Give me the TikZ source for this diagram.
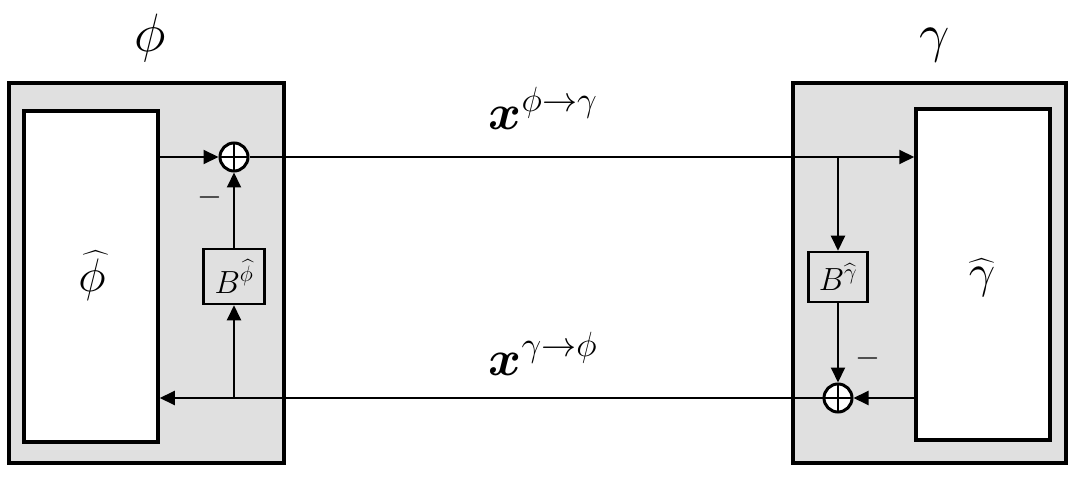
\RequirePackage{fix-cm}
\documentclass[tikz,border=0pt]{standalone}
\usepackage{amsmath}
\usetikzlibrary{arrows.meta}
\definecolor{boxgray}{RGB}{224,224,224}
\tikzset{
  outerbox/.style={draw, line width=4pt, fill=boxgray, inner sep=0pt},
  innerbox/.style={draw, line width=3.5pt, fill=white, inner sep=0pt},
  bbox/.style={draw, line width=2.5pt, fill=boxgray, inner sep=0pt, font=\fontsize{32}{36}\selectfont},
  sumnode/.style={circle, draw, line width=3pt, fill=white, minimum size=28pt, inner sep=0pt,
    path picture={\draw[line width=2.5pt] (path picture bounding box.north) -- (path picture bounding box.south)
      (path picture bounding box.west) -- (path picture bounding box.east);}},
  arr/.style={line width=2pt, -{Triangle[length=15pt,width=14pt]}},
  biglabel/.style={font=\fontsize{54}{60}\selectfont, inner sep=0pt},
  hatlabel/.style={font=\fontsize{47}{52}\selectfont, inner sep=0pt},
  xlabel/.style={font=\fontsize{50}{56}\selectfont, inner sep=0pt},
  minuslabel/.style={font=\fontsize{32}{36}\selectfont, inner sep=0pt}
}
\begin{document}
\begin{tikzpicture}[x=1pt, y=-1pt]
\useasboundingbox[fill=white] (0,0) rectangle (1074,481);
% outer boxes
\node[outerbox, minimum width=275pt, minimum height=380pt] (Lout) at (146.5,273) {};
\node[outerbox, minimum width=273pt, minimum height=380pt] (Rout) at (929.5,273) {};
% inner boxes
\node[innerbox, minimum width=134pt, minimum height=331pt] (Lin) at (91,276.5) {};
\node[innerbox, minimum width=134pt, minimum height=331pt] (Rin) at (983,274.5) {};
\node[hatlabel] (Lhat) at (92,276) {$\widehat{\phi}$};
\node[hatlabel] (Rhat) at (982,278) {$\widehat{\gamma}$};
% B boxes
\node[bbox, minimum width=61pt, minimum height=55pt] (BL) at (234,276.5) {$B^{\widehat{\phi}}$};
\node[bbox, minimum width=59pt, minimum height=50pt] (BR) at (838,277) {$B^{\widehat{\gamma}}$};
% sum nodes
\node[sumnode] (sumL) at (234,157) {};
\node[sumnode] (sumR) at (838,398) {};
% titles
\node[biglabel, anchor=base] (tphi) at (150,52) {$\phi$};
\node[biglabel, anchor=base] (tgamma) at (935,52) {$\gamma$};
% edge labels
\node[xlabel, anchor=base] (x1) at (543,130) {$\boldsymbol{x}^{\phi\rightarrow\gamma}$};
\node[xlabel, anchor=base] (x2) at (543,375) {$\boldsymbol{x}^{\gamma\rightarrow\phi}$};
% minus signs
\node[minuslabel] (mL) at (210,198) {$-$};
\node[minuslabel] (mR) at (868,358) {$-$};
% coordinates
\coordinate (brR) at (BR |- sumL);
\coordinate (brL) at (BL |- sumR);
% connectors
\draw[arr] (Lin.east |- sumL) -- (sumL.west);
\draw[arr] (BL.north) -- (sumL.south);
\draw[arr] (sumL.east) -- (Rin.west |- sumL);
\draw[arr] (brR) -- (BR.north);
\draw[arr] (BR.south) -- (sumR.north);
\draw[arr] (Rin.west |- sumR) -- (sumR.east);
\draw[arr] (sumR.west) -- (Lin.east |- sumR);
\draw[arr] (brL) -- (BL.south);
\end{tikzpicture}
\end{document}
